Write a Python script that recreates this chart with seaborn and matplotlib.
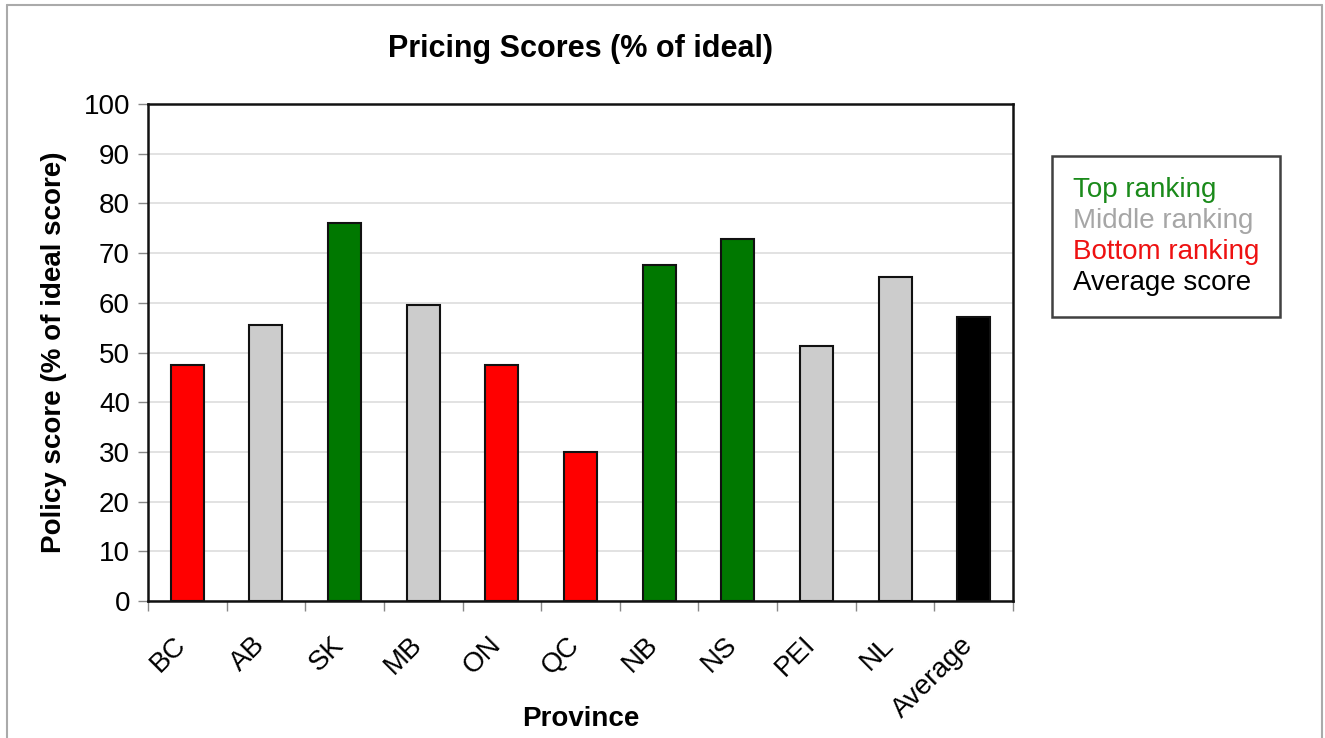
import matplotlib
matplotlib.use("Agg")
import matplotlib.pyplot as plt
from matplotlib.lines import Line2D
from matplotlib.patches import Patch
from matplotlib.ticker import MultipleLocator, FixedLocator
from matplotlib.transforms import ScaledTranslation
import seaborn as sns
import pandas as pd

provinces = ["BC", "AB", "SK", "MB", "ON", "QC", "NB", "NS", "PEI", "NL", "Average"]
scores = [47.4, 55.5, 76.1, 59.6, 47.4, 30.0, 67.7, 72.9, 51.4, 65.2, 57.2]
ranking = ["Bottom", "Middle", "Top", "Middle", "Bottom", "Bottom",
           "Top", "Top", "Middle", "Middle", "Average"]

rank_colors = {"Top": "#007800", "Middle": "#cccccc", "Bottom": "#ff0000", "Average": "#000000"}
legend_labels = [("Top ranking", "#1a8a1a"), ("Middle ranking", "#a6a6a6"),
                 ("Bottom ranking", "#ee1111"), ("Average score", "#000000")]

df = pd.DataFrame({"Province": provinces, "Score": scores, "Rank": ranking})

sns.set_style("white")
plt.rcParams["font.family"] = ["Liberation Sans", "DejaVu Sans"]
plt.rcParams["text.color"] = "black"
plt.rcParams["axes.labelcolor"] = "black"
plt.rcParams["xtick.color"] = "black"
plt.rcParams["ytick.color"] = "black"

fig = plt.figure(figsize=(13.25, 7.38), dpi=100)
ax = fig.add_axes([0.1117, 0.1856, 0.6528, 0.6734])

sns.barplot(data=df, x="Province", y="Score", hue="Rank", palette=rank_colors,
            dodge=False, width=0.42, edgecolor="#111111", linewidth=1.5,
            saturation=1, legend=False, ax=ax)

ax.set_ylim(0, 100)
ax.set_xlim(-0.5, len(provinces) - 0.5)
ax.yaxis.set_major_locator(MultipleLocator(10))
ax.yaxis.grid(True, color="#dddddd", linewidth=1.2)
ax.set_axisbelow(True)
for s in ax.spines.values():
    s.set_visible(True)
    s.set_color("#111111")
    s.set_linewidth(1.8)

ax.tick_params(axis="y", which="major", left=True, length=7, width=1, color="#888888",
               labelsize=20, pad=6)
ax.tick_params(axis="x", which="major", length=0, labelsize=20, pad=22)
ax.xaxis.set_minor_locator(FixedLocator([i + 0.5 for i in range(-1, len(provinces))]))
ax.tick_params(axis="x", which="minor", bottom=True, length=7, width=1, color="#888888")
shift = ScaledTranslation(-0.14, 0, fig.dpi_scale_trans)
for lab in ax.get_xticklabels():
    lab.set_rotation(45)
    lab.set_ha("right")
    lab.set_rotation_mode("anchor")
    lab.set_transform(lab.get_transform() + shift)

ax.set_xlabel("Province", fontsize=20, fontweight="bold")
ax.xaxis.set_label_coords(0.5, -0.212)
ax.set_ylabel("Policy score (% of ideal score)", fontsize=20, fontweight="bold", labelpad=12)
ax.set_title("Pricing Scores (% of ideal)", fontsize=22, fontweight="bold", pad=34)

handles = [Patch(visible=False) for _ in legend_labels]
leg = fig.legend(handles, [l for l, _ in legend_labels],
                 labelcolor=[c for _, c in legend_labels],
                 loc="upper left", bbox_to_anchor=(0.794, 0.788),
                 handlelength=0, handletextpad=0, fontsize=20,
                 frameon=True, fancybox=False, borderpad=0.75, labelspacing=0.18,
                 borderaxespad=0)
leg.get_frame().set_edgecolor("#111111")
leg.get_frame().set_linewidth(1.8)

# thin gray page border (no bottom edge)
border = dict(color="#aaaaaa", linewidth=1.5, transform=fig.transFigure)
fig.add_artist(Line2D([0.0053, 0.0053], [0.0, 0.993], **border))
fig.add_artist(Line2D([0.0053, 0.9977], [0.993, 0.993], **border))
fig.add_artist(Line2D([0.9977, 0.9977], [0.0, 0.993], **border))

fig.savefig("out.png", dpi=100)
